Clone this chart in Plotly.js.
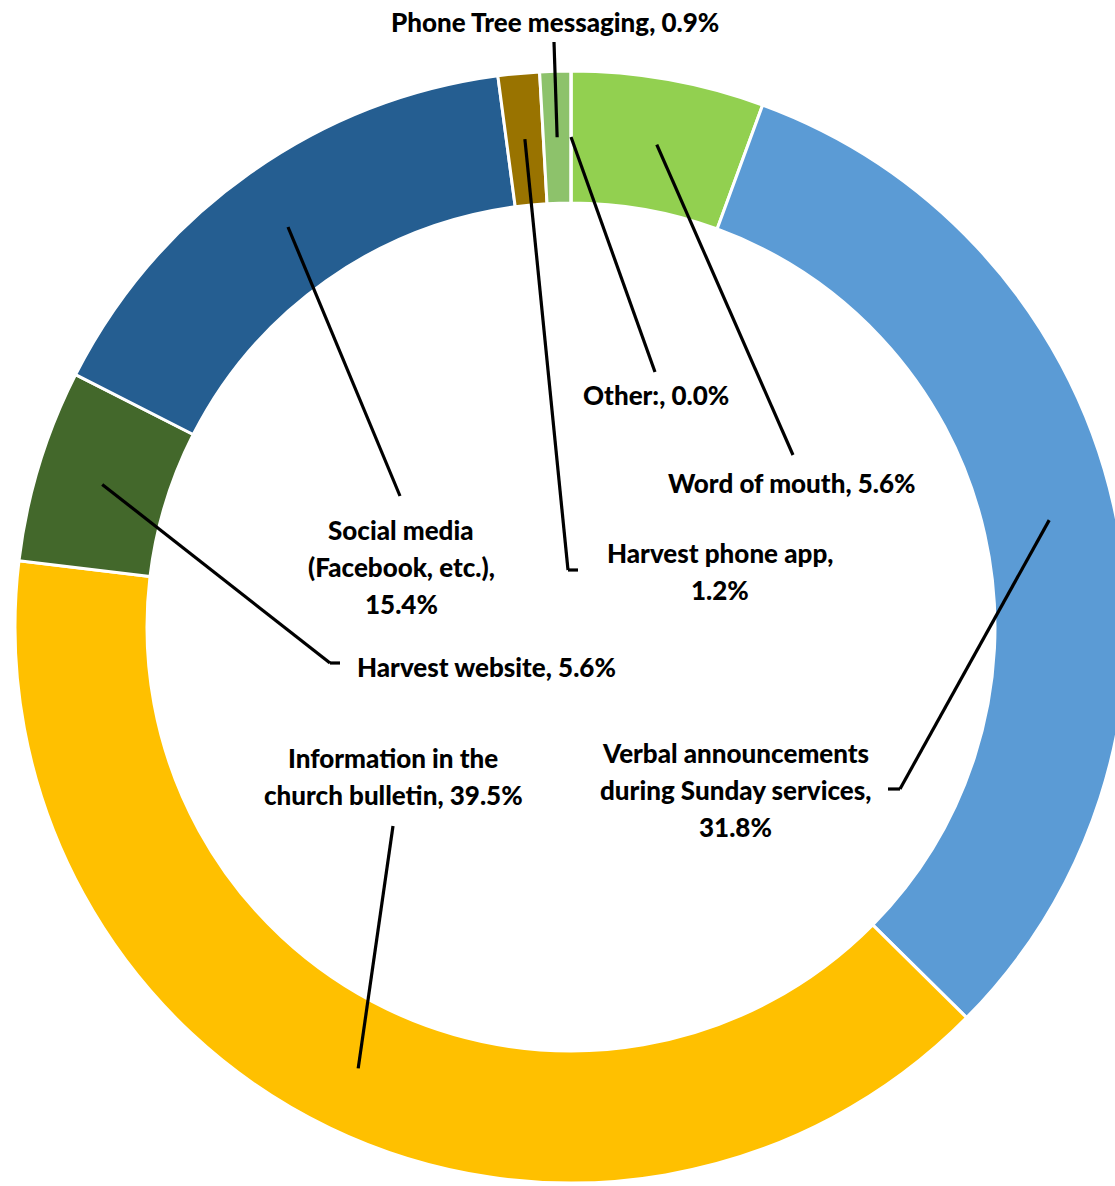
<!DOCTYPE html>
<html>
<head>
<meta charset="utf-8">
<script src="https://cdn.plot.ly/plotly-3.0.1.min.js"></script>
<style>
html,body{margin:0;padding:0;overflow:hidden;background:#fff;}
#chart{width:1140px;height:1186px;}
</style>
</head>
<body>
<div id="chart"></div>
<script>
// Data
const categories = [
  "Word of mouth",
  "Verbal announcements during Sunday services",
  "Information in the church bulletin",
  "Harvest website",
  "Social media (Facebook, etc.)",
  "Harvest phone app",
  "Phone Tree messaging",
  "Other:"
];
const percents = [5.6, 31.8, 39.5, 5.6, 15.4, 1.2, 0.9, 0.0];
const labelTexts = [
  "Word of mouth, 5.6%",
  "Verbal announcements<br>during Sunday services,<br>31.8%",
  "Information in the<br>church bulletin, 39.5%",
  "Harvest website, 5.6%",
  "Social media<br>(Facebook, etc.),<br>15.4%",
  "Harvest phone app,<br>1.2%",
  "Phone Tree messaging, 0.9%",
  "Other:, 0.0%"
];
const colors = ["#92D050","#5B9BD5","#FFC000","#43682B","#255E91","#997300","#8DC26B","#4472C4"];

// Layout (pixels)
const W = 1140, H = 1186;
const CX = 571, CY = 627, R = 556, RIN = 424;
const RMID = (R + RIN) / 2;
const labelPos = [
  [792, 483, "center"],
  [735, 753, "center"],
  [393, 758, "center"],
  [355, 667, "left"],
  [401, 530, "center"],
  [720, 553, "center"],
  [555, 22, "center"],
  [656, 395, "center"]
];
const leaderEnds = [
  [[793, 455]],
  [[900, 789], [888, 789]],
  [[393, 826]],
  [[330, 663], [340, 663]],
  [[400, 496]],
  [[568, 570], [578, 570]],
  [[554, 42]],
  [[655, 372]]
];
const LINE_GAP = 37;

const px = x => x / W;
const py = y => 1 - y / H;

const total = percents.reduce((a, b) => a + b, 0);
const shapes = [];
const annotations = [];
let cum = 0;
percents.forEach((v, i) => {
  const mid = (cum + v / 2) / total * 2 * Math.PI;
  cum += v;
  const ax = CX + RMID * Math.sin(mid);
  const ay = CY - RMID * Math.cos(mid);
  let prev = [ax, ay];
  leaderEnds[i].forEach(p => {
    shapes.push({type: "line", xref: "paper", yref: "paper",
      x0: px(prev[0]), y0: py(prev[1]), x1: px(p[0]), y1: py(p[1]),
      line: {color: "#000", width: 3.2}});
    prev = p;
  });
  const lines = labelTexts[i].split("<br>");
  const [lx, ly, anc] = labelPos[i];
  lines.forEach((t, k) => {
    annotations.push({
      xref: "paper", yref: "paper", x: px(lx), y: py(ly + k * LINE_GAP),
      text: t, showarrow: false,
      xanchor: anc, yanchor: "middle",
      font: {family: "Lato, 'Open Sans', sans-serif", size: 26, weight: 900, color: "#000"}
    });
  });
});

const data = [{
  type: "pie",
  labels: categories,
  values: percents,
  sort: false,
  direction: "clockwise",
  rotation: 0,
  hole: RIN / R,
  textinfo: "none",
  hoverinfo: "none",
  showlegend: false,
  marker: {colors: colors, line: {color: "#fff", width: 3}},
  domain: {x: [(CX - R) / W, (CX + R) / W], y: [1 - (CY + R) / H, 1 - (CY - R) / H]}
}];

const layout = {
  width: W, height: H,
  margin: {l: 0, r: 0, t: 0, b: 0},
  paper_bgcolor: "#fff",
  showlegend: false,
  shapes: shapes,
  annotations: annotations
};

Plotly.newPlot("chart", data, layout, {staticPlot: true});
</script>
</body>
</html>
